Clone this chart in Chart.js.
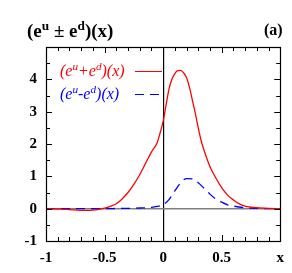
<!DOCTYPE html>
<html>
<head>
<meta charset="utf-8">
<script src="https://cdn.jsdelivr.net/npm/chart.js@4"></script>
<style>
  body { margin: 0; background: #fff; }
  #wrap { position: relative; width: 292px; height: 273px; }
  .lbl { position: absolute; font-family: "Liberation Serif", serif; white-space: nowrap; line-height: 1; }
  .lbl sup { font-size: 70%; vertical-align: 0; position: relative; top: -0.5em; }
  #title { left: 27px; top: 21px; font-size: 19px; font-weight: bold; }
  #panel { left: 264px; top: 22px; font-size: 16px; font-weight: bold; }
  .leg { font-size: 16px; font-style: italic; }
  #legRed { left: 60px; top: 63px; color: #ff0000; }
  #legBlue { left: 60px; top: 86px; color: #0000ff; }
  .legLine { position: absolute; width: 27px; height: 1.3px; }
  #lineRed { left: 135px; top: 71px; background: #ff0000; }
  #lineBlue { left: 135px; top: 94px; background: repeating-linear-gradient(to right, #0000ff 0, #0000ff 9px, transparent 9px, transparent 15px); }
</style>
</head>
<body>
<div id="wrap">
  <canvas id="grafico" width="292" height="273"></canvas>
  <div class="lbl" id="title">(e<sup>u</sup> &plusmn; e<sup>d</sup>)(x)</div>
  <div class="lbl" id="panel">(a)</div>
  <div class="lbl leg" id="legRed">(e<sup>u</sup>+e<sup>d</sup>)(x)</div>
  <div class="lbl leg" id="legBlue">(e<sup>u</sup>-e<sup>d</sup>)(x)</div>
  <div class="legLine" id="lineRed"></div>
  <div class="legLine" id="lineBlue"></div>
</div>
<script>
// curva roja (e^u + e^d)(x)
var redX = [-1, -0.95, -0.9, -0.85, -0.8, -0.75, -0.7, -0.65, -0.6, -0.55, -0.5, -0.45, -0.4, -0.35, -0.3, -0.25, -0.2, -0.15, -0.1, -0.05, -0.025, 0, 0.025, 0.05, 0.075, 0.1, 0.125, 0.15, 0.175, 0.2, 0.225, 0.25, 0.275, 0.3, 0.325, 0.35, 0.4, 0.45, 0.5, 0.55, 0.6, 0.65, 0.7, 0.75, 0.8, 0.9, 1];
var redY = [0, -0.005, -0.01, -0.02, -0.03, -0.04, -0.05, -0.055, -0.045, -0.02, 0.02, 0.07, 0.15, 0.3, 0.5, 0.75, 1.05, 1.4, 1.75, 2.05, 2.35, 2.7, 3.2, 3.7, 4.0, 4.18, 4.27, 4.28, 4.2, 4.05, 3.75, 3.35, 2.95, 2.5, 2.1, 1.8, 1.3, 0.95, 0.65, 0.42, 0.27, 0.15, 0.08, 0.05, 0.03, 0.01, 0];

// curva azul (e^u - e^d)(x)
var blueX = [-1, -0.5, -0.4, -0.3, -0.2, -0.1, -0.05, 0, 0.05, 0.1, 0.15, 0.2, 0.25, 0.3, 0.35, 0.4, 0.45, 0.5, 0.55, 0.6, 0.7, 0.8, 0.9, 1];
var blueY = [0, 0, 0.005, 0.01, 0.02, 0.04, 0.07, 0.12, 0.28, 0.55, 0.8, 0.93, 0.92, 0.8, 0.63, 0.45, 0.3, 0.2, 0.12, 0.08, 0.03, 0.01, 0, 0];

// etiquetas de los ejes
var xTickLabels = { "-1": "-1", "-0.5": "-0.5", "0": "0", "0.5": "0.5", "1": "x" };
var yTickLabels = { "-1": "-1", "0": "0", "1": "1", "2": "2", "3": "3", "4": "4" };

function toPoints(xs, ys) {
    var pts = [];
    for (var i = 0; i < xs.length; i++) {
        pts.push({ x: xs[i], y: ys[i] });
    }
    return pts;
}

function keyOf(v) {
    return String(Math.round(v * 10) / 10);
}

// marcas hacia adentro en los cuatro lados + marco
var marcasPlugin = {
    id: 'marcas',
    afterDatasetsDraw: function(chart) {
        var ctx = chart.ctx, a = chart.chartArea;
        var sx = chart.scales.x, sy = chart.scales.y;
        ctx.save();
        ctx.strokeStyle = '#000';
        ctx.lineWidth = 1;
        sx.ticks.forEach(function(t) {
            var px = Math.round(sx.getPixelForValue(t.value)) + 0.5;
            var len = xTickLabels[keyOf(t.value)] !== undefined ? 6 : 4;
            ctx.beginPath();
            ctx.moveTo(px, a.bottom); ctx.lineTo(px, a.bottom - len);
            ctx.moveTo(px, a.top); ctx.lineTo(px, a.top + len);
            ctx.stroke();
        });
        sy.ticks.forEach(function(t) {
            var py = Math.round(sy.getPixelForValue(t.value)) + 0.5;
            var len = Number.isInteger(Math.round(t.value * 10) / 10) ? 6 : 4;
            ctx.beginPath();
            ctx.moveTo(a.left, py); ctx.lineTo(a.left + len, py);
            ctx.moveTo(a.right, py); ctx.lineTo(a.right - len, py);
            ctx.stroke();
        });
        ctx.lineWidth = 1.2;
        ctx.strokeRect(Math.round(a.left) + 0.5, Math.round(a.top) + 0.5, Math.round(a.right - a.left), Math.round(a.bottom - a.top));
        ctx.restore();
    }
};

var tickFont = { family: 'Liberation Serif', size: 15, weight: 'bold' };

var grafico = new Chart(document.getElementById('grafico'), {
    type: 'line',
    data: {
        datasets: [{
            data: toPoints(redX, redY),
            borderColor: '#ff0000',
            borderWidth: 1.3,
            pointRadius: 0,
            cubicInterpolationMode: 'monotone',
            fill: false
        }, {
            data: toPoints(blueX, blueY),
            borderColor: '#0000ff',
            borderWidth: 1.3,
            borderDash: [9, 6],
            pointRadius: 0,
            cubicInterpolationMode: 'monotone',
            fill: false
        }]
    },
    options: {
        responsive: false,
        animation: false,
        events: [],
        layout: { padding: { left: 0, top: 47, right: 7, bottom: 0 } },
        plugins: {
            legend: { display: false },
            tooltip: { enabled: false }
        },
        scales: {
            x: {
                type: 'linear',
                min: -1,
                max: 1,
                afterFit: function(scale) { scale.height = 32; },
                border: { display: false },
                grid: {
                    drawTicks: false,
                    lineWidth: 1.2,
                    color: function(c) { return c.tick && Math.abs(c.tick.value) < 1e-9 ? '#000' : 'rgba(0,0,0,0)'; }
                },
                ticks: {
                    stepSize: 0.1,
                    autoSkip: false,
                    maxRotation: 0,
                    padding: 8,
                    color: '#000',
                    font: tickFont,
                    callback: function(v) {
                        var l = xTickLabels[keyOf(v)];
                        return l === undefined ? '' : l;
                    }
                }
            },
            y: {
                min: -1,
                max: 5,
                afterFit: function(scale) { scale.width = 46; },
                border: { display: false },
                grid: {
                    drawTicks: false,
                    lineWidth: 1.5,
                    color: function(c) { return c.tick && Math.abs(c.tick.value) < 1e-9 ? '#808080' : 'rgba(0,0,0,0)'; }
                },
                ticks: {
                    stepSize: 0.5,
                    autoSkip: false,
                    padding: 9,
                    color: '#000',
                    font: tickFont,
                    callback: function(v) {
                        var l = yTickLabels[keyOf(v)];
                        return l === undefined ? '' : l;
                    }
                }
            }
        }
    },
    plugins: [marcasPlugin]
});
</script>
</body>
</html>
